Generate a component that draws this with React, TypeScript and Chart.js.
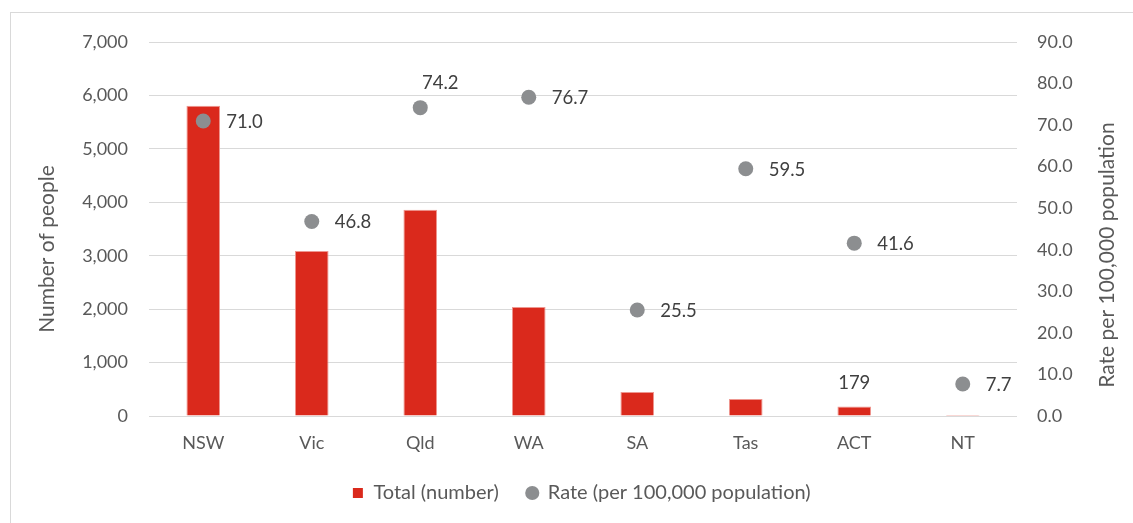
import React, { useEffect, useRef } from 'react';
import { Chart, registerables } from 'chart.js';

Chart.register(...registerables);

const categories = ['NSW', 'Vic', 'Qld', 'WA', 'SA', 'Tas', 'ACT', 'NT'];
const totalNumber = [5805, 3090, 3860, 2040, 450, 320, 179, 19];
const ratePer100k = [71.0, 46.8, 74.2, 76.7, 25.5, 59.5, 41.6, 7.7];
const showBarLabel = [false, false, false, false, false, false, true, false];
const rateLabelPlacement = ['right', 'right', 'above', 'right', 'right', 'right', 'right', 'right'];

const seriesNames = ['Total (number)', 'Rate (per 100,000 population)'];
const leftAxisTitle = 'Number of people';
const rightAxisTitle = 'Rate per 100,000 population';

const FONT = 'Lato';
const RED = '#DA291C';
const GREY_DOT = '#8C8E90';
const TICK_COLOR = '#595959';
const LABEL_COLOR = '#404040';
const GRID = '#D9D9D9';

const decorPlugin = {
  id: 'decor',
  beforeDraw(chart: any) {
    const ctx = chart.ctx;
    ctx.save();
    ctx.fillStyle = '#ffffff';
    ctx.fillRect(0, 0, chart.width, chart.height);
    ctx.strokeStyle = GRID;
    ctx.lineWidth = 1;
    ctx.strokeRect(10.5, 12.5, 3000, 3000);
    ctx.restore();
  },
  afterDraw(chart: any) {
    const ctx = chart.ctx;
    const area = chart.chartArea;
    ctx.save();
    ctx.font = `21px ${FONT}`;
    ctx.fillStyle = TICK_COLOR;
    ctx.textAlign = 'center';
    ctx.textBaseline = 'middle';
    // left axis title
    ctx.save();
    ctx.translate(47, area.top + (area.bottom - area.top) / 2 + 20);
    ctx.rotate(-Math.PI / 2);
    ctx.fillText(leftAxisTitle, 0, 0);
    ctx.restore();
    // right axis title
    ctx.save();
    ctx.translate(1107, area.top + (area.bottom - area.top) / 2 + 26);
    ctx.rotate(-Math.PI / 2);
    ctx.fillText(rightAxisTitle, 0, 0);
    ctx.restore();
    ctx.restore();
  },
  afterDatasetsDraw(chart: any) {
    const ctx = chart.ctx;
    ctx.save();
    ctx.font = `18.5px ${FONT}`;
    ctx.fillStyle = LABEL_COLOR;
    // bar labels
    const barMeta = chart.getDatasetMeta(0);
    barMeta.data.forEach((el: any, i: number) => {
      if (!showBarLabel[i]) return;
      ctx.textAlign = 'center';
      ctx.textBaseline = 'middle';
      ctx.fillText(totalNumber[i].toLocaleString('en-US'), el.x, el.y - 23);
    });
    // rate labels
    const lineMeta = chart.getDatasetMeta(1);
    lineMeta.data.forEach((el: any, i: number) => {
      const txt = ratePer100k[i].toFixed(1);
      ctx.textBaseline = 'middle';
      if (rateLabelPlacement[i] === 'above') {
        ctx.textAlign = 'center';
        ctx.fillText(txt, el.x + 20, el.y - 25);
      } else {
        ctx.textAlign = 'left';
        ctx.fillText(txt, el.x + 23, el.y + 1);
      }
    });
    ctx.restore();
  },
};

export default function App() {
  const ref = useRef<HTMLCanvasElement | null>(null);

  useEffect(() => {
    document.body.style.margin = '0';
    const canvas = ref.current;
    if (!canvas) return;
    const chart = new Chart(canvas, {
      type: 'bar',
      data: {
        labels: categories,
        datasets: [
          {
            type: 'bar',
            label: seriesNames[0],
            data: totalNumber,
            backgroundColor: RED,
            borderColor: '#EE9790',
            borderWidth: 1,
            categoryPercentage: 1,
            barPercentage: 0.31,
            yAxisID: 'y',
            order: 2,
          },
          {
            type: 'line',
            label: seriesNames[1],
            data: ratePer100k,
            showLine: false,
            pointRadius: 7.5,
            pointHoverRadius: 7.5,
            pointBackgroundColor: GREY_DOT,
            pointBorderColor: GREY_DOT,
            pointBorderWidth: 0,
            backgroundColor: GREY_DOT,
            borderColor: GREY_DOT,
            yAxisID: 'y1',
            order: 1,
          },
        ],
      } as any,
      options: {
        responsive: false,
        animation: false,
        devicePixelRatio: 1,
        layout: { padding: { top: 42, left: 30, right: 0, bottom: 10 } },
        plugins: {
          tooltip: { enabled: false },
          legend: {
            position: 'bottom',
            labels: {
              usePointStyle: true,
              boxWidth: 11,
              boxHeight: 10,
              padding: 28,
              color: TICK_COLOR,
              font: { family: FONT, size: 20 },
              generateLabels: (chart: any) => {
                const items = (Chart.defaults.plugins.legend.labels as any).generateLabels(chart);
                return items
                  .sort((a: any, b: any) => a.datasetIndex - b.datasetIndex)
                  .map((it: any) => ({
                    ...it,
                    pointStyle: it.datasetIndex === 0 ? 'rect' : 'circle',
                    fillStyle: it.datasetIndex === 0 ? RED : GREY_DOT,
                    strokeStyle: it.datasetIndex === 0 ? RED : GREY_DOT,
                    lineWidth: 0,
                  }));
              },
            },
          },
        },
        scales: {
          x: {
            grid: { display: false, drawTicks: false },
            border: { display: false },
            ticks: { color: TICK_COLOR, font: { family: FONT, size: 18 }, padding: 16, maxRotation: 0 },
            afterFit: (s: any) => { s.height = 39; },
          },
          y: {
            position: 'left',
            min: 0,
            max: 7000,
            grid: { color: GRID, lineWidth: 1, drawTicks: false },
            border: { display: false },
            ticks: {
              stepSize: 1000,
              color: TICK_COLOR,
              font: { family: FONT, size: 18 },
              padding: 21,
              callback: (v: any) => Number(v).toLocaleString('en-US'),
            },
            afterFit: (s: any) => { s.width = 119; },
          },
          y1: {
            position: 'right',
            min: 0,
            max: 90,
            grid: { display: false, drawTicks: false },
            border: { display: false },
            ticks: {
              stepSize: 10,
              color: TICK_COLOR,
              font: { family: FONT, size: 18 },
              padding: 20,
              callback: (v: any) => Number(v).toFixed(1),
            },
            afterFit: (s: any) => { s.width = 116; },
          },
        },
      } as any,
      plugins: [decorPlugin],
    });
    return () => chart.destroy();
  }, []);

  return (
    <div style={{ width: 1133, height: 523, overflow: 'hidden' }}>
      <canvas ref={ref} width={1133} height={523} style={{ display: 'block' }} />
    </div>
  );
}
